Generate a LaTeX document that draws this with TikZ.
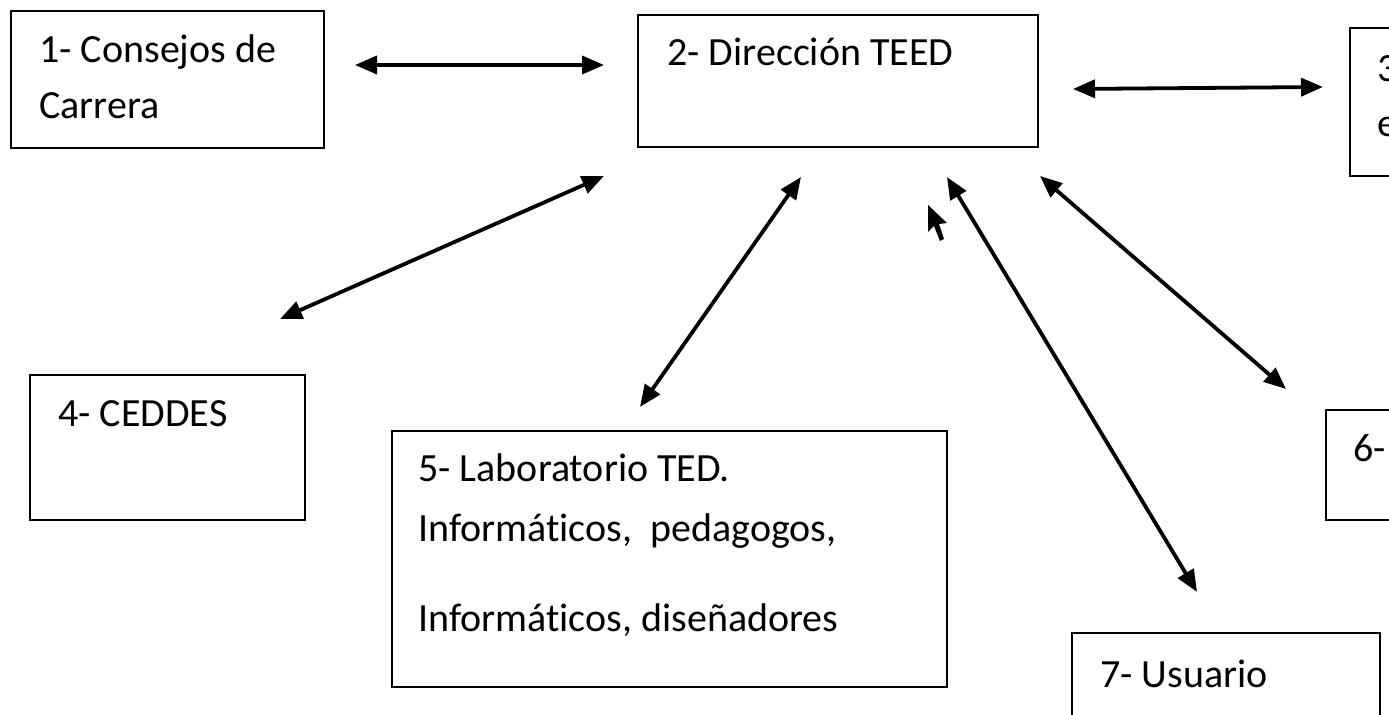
\documentclass[tikz,border=0pt]{standalone}
\usepackage{fontspec}
\setmainfont{Carlito}[RawFeature={-liga;-clig;-calt;-dlig}]
\usetikzlibrary{arrows.meta}
\begin{document}
\begin{tikzpicture}[x=0.5pt,y=-0.5pt,
  box/.style={draw=black,line width=1.2pt,inner sep=0pt,anchor=north west},
  lbl/.style={anchor=base west,inner sep=0pt,font=\fontsize{20pt}{24pt}\selectfont,text=black},
  link/.style={line width=1.9pt,{Triangle[length=11pt,width=9pt]}-{Triangle[length=11pt,width=9pt]}}]
\useasboundingbox (0,0) rectangle (1389,715);
\fill[white] (0,0) rectangle (1389,715);
\begin{scope}
\clip (0,0) rectangle (1389,715);
% boxes
\node[box,minimum width=313*0.5pt,minimum height=137*0.5pt] (b1) at (10,10) {};
\node[box,minimum width=400*0.5pt,minimum height=132*0.5pt] (b2) at (637,14) {};
\node[box,minimum width=100*0.5pt,minimum height=148*0.5pt] (b3) at (1349,27) {};
\node[box,minimum width=275*0.5pt,minimum height=145*0.5pt] (b4) at (29,374) {};
\node[box,minimum width=555*0.5pt,minimum height=256*0.5pt] (b5) at (391,430) {};
\node[box,minimum width=100*0.5pt,minimum height=110*0.5pt] (b6) at (1325,409) {};
\node[box,minimum width=308*0.5pt,minimum height=120*0.5pt] (b7) at (1071,632) {};
% labels
\node[lbl] (t1a) at (39,63) {1- Consejos de};
\node[lbl] (t1b) at (39,119) {Carrera};
\node[lbl] (t2) at (667,66) {2- Dirección TEED};
\node[lbl] (t3a) at (1377,82) {3-};
\node[lbl] (t3b) at (1377,137) {e};
\node[lbl] (t4) at (58,427) {4- CEDDES};
\node[lbl] (t5a) at (418,482) {5- Laboratorio TED.};
\node[lbl] (t5b) at (418,542) {Informát\kern0pt icos,\ \ pedagogos,};
\node[lbl] (t5c) at (418,632) {Informát\kern0pt icos, diseñadores};
\node[lbl] (t6) at (1353,462) {6-};
\node[lbl] (t7) at (1100,688) {7- Usuario};
% connector end points
\coordinate (a1) at (355,65);  \coordinate (a2) at (604,65);
\coordinate (b1e) at (1073,89); \coordinate (b2e) at (1323,87);
\coordinate (c1) at (604,176); \coordinate (c2) at (280,319);
\coordinate (d1) at (801,177); \coordinate (d2) at (640,407);
\coordinate (e1) at (947,177); \coordinate (e2) at (1197,592);
\coordinate (f1) at (1040,176); \coordinate (f2) at (1286,389);
\draw[link] (a1) -- (a2);
\draw[link] (b1e) -- (b2e);
\draw[link] (c1) -- (c2);
\draw[link] (d1) -- (d2);
\draw[link] (e1) -- (e2);
\draw[link] (f1) -- (f2);
% mouse pointer
\fill[black] (928,205) -- (928,232) -- (934,226) -- (940,241) -- (944,239) -- (939,224) -- (947,223) -- cycle;
\end{scope}
\end{tikzpicture}
\end{document}
